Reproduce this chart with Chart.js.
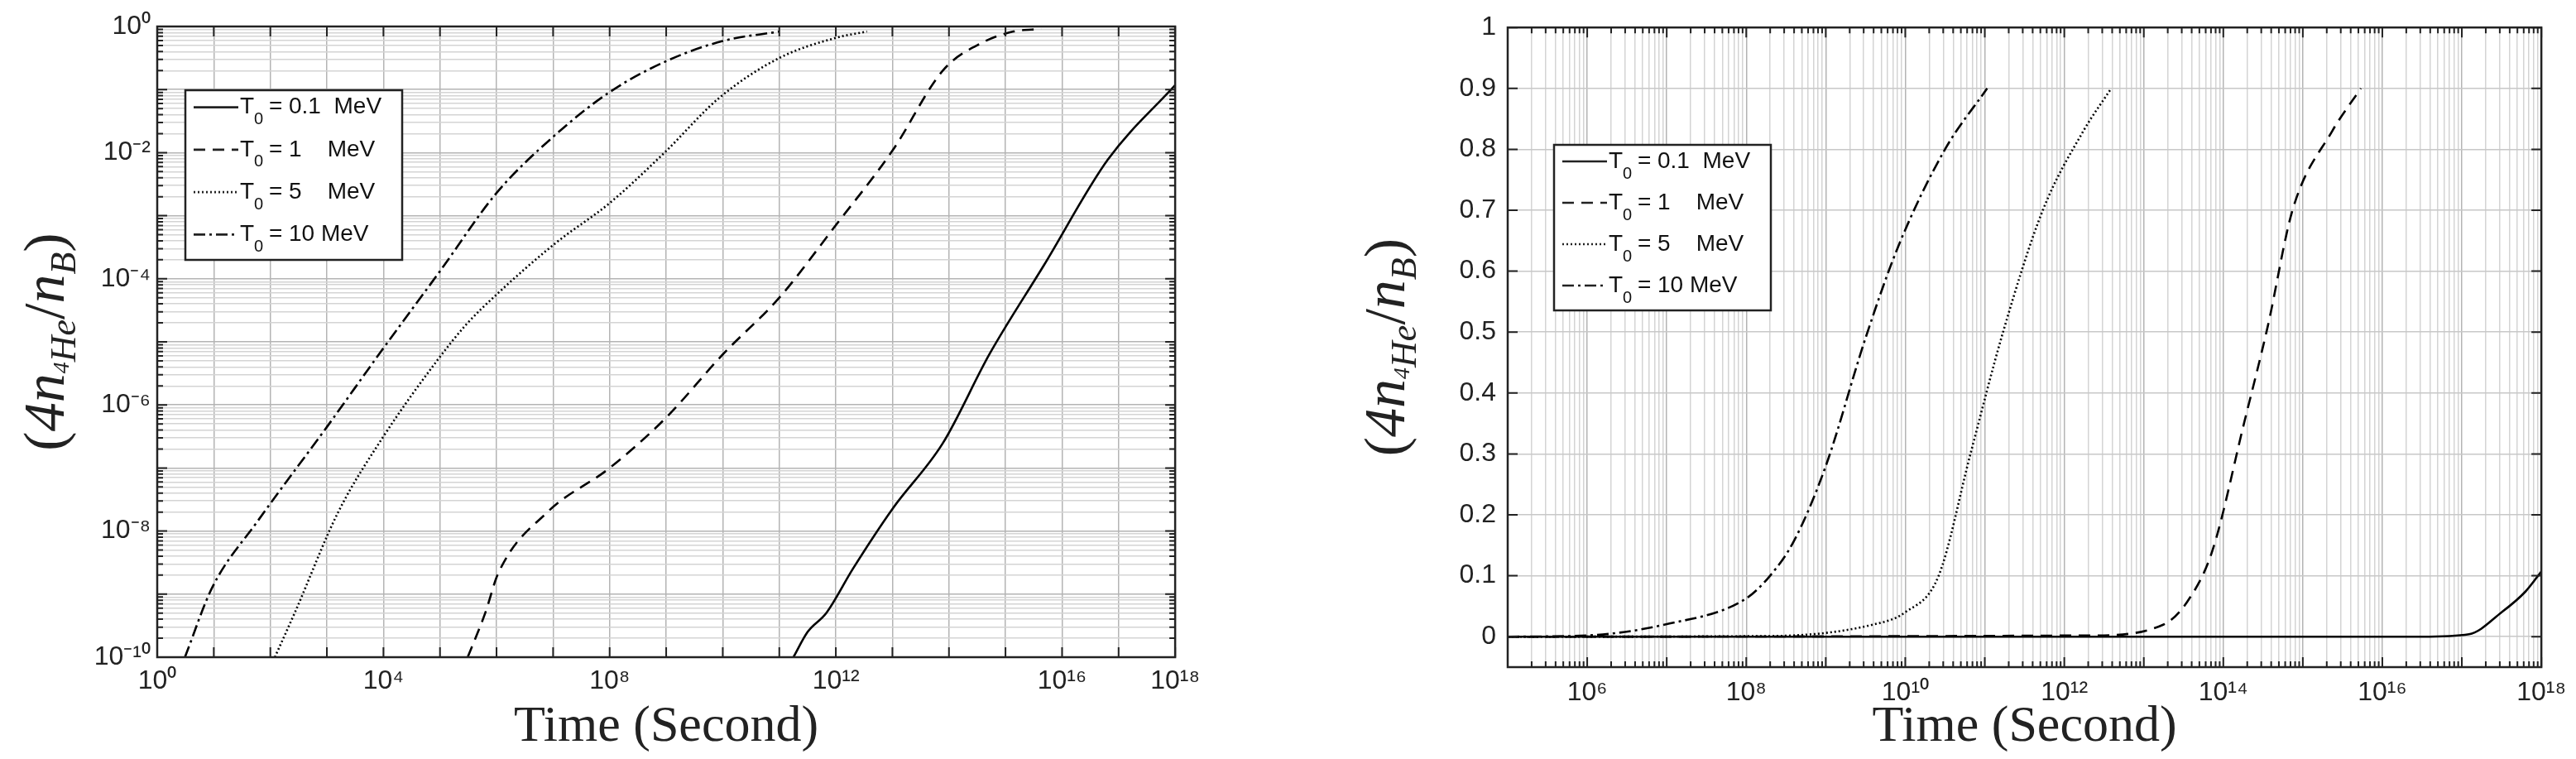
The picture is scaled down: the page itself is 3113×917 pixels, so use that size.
<!DOCTYPE html>
<html>
<head>
<meta charset="utf-8">
<script src="https://cdn.jsdelivr.net/npm/chart.js@4"></script>
<style>
  body { margin: 0; background: #fff; width: 3113px; height: 917px; overflow: hidden; }
  .box { position: absolute; top: 0; height: 917px; }
</style>
</head>
<body>
<div class="box" style="left:0;width:1460px"><canvas id="logChart"></canvas></div>
<div class="box" style="left:1600px;width:1513px"><canvas id="linChart"></canvas></div>
<script>
// series labels
const seriesNames = ["0.1  MeV", "1    MeV", "5    MeV", "10 MeV"];
const seriesDash = [[], [14, 9], [2, 3], [14, 5, 3, 5]];

// left panel (log-log), stored as log10(time), log10(value)
const t01LogX = [11.25, 11.5, 11.83, 12.3, 13.0, 13.89, 14.72, 15.69, 16.81, 18.0];
const t01LogY = [-10, -9.6, -9.3, -8.6, -7.65, -6.61, -5.19, -3.77, -2.11, -0.93];
const t1LogX = [5.49, 5.8, 6.03, 6.9, 8.0, 9.0, 10.0, 11.0, 12.0, 13.0, 13.9, 14.58, 15.14, 15.63];
const t1LogY = [-10, -9.3, -8.67, -7.7, -7.0, -6.2, -5.2, -4.3, -3.15, -1.97, -0.69, -0.26, -0.08, -0.04];
const t5LogX = [2.08, 2.43, 3.2, 4.0, 4.93, 5.45, 6.0, 7.05, 8.0, 8.97, 9.94, 11.0, 12.0, 12.55];
const t5LogY = [-10, -9.3, -7.7, -6.5, -5.32, -4.74, -4.25, -3.43, -2.8, -2.0, -1.13, -0.5, -0.18, -0.08];
const t10LogX = [0.49, 0.97, 1.77, 3.0, 4.0, 5.0, 6.0, 7.0, 8.0, 9.0, 10.0, 11.0];
const t10LogY = [-10, -8.9, -7.85, -6.35, -5.1, -3.88, -2.64, -1.75, -1.04, -0.55, -0.23, -0.08];

// right panel (log time, linear value)
const r01LogX = [5.0, 16.5, 17.09, 17.5, 17.8, 18.0];
const r01Y = [0, 0, 0.004, 0.04, 0.074, 0.107];
const r1LogX = [5.0, 12.34, 13.25, 13.55, 13.86, 14.26, 14.56, 14.87, 15.37, 15.73];
const r1Y = [0, 0.002, 0.02, 0.058, 0.14, 0.35, 0.51, 0.7, 0.83, 0.9];
const r5LogX = [5.0, 8.3, 9.6, 10.0, 10.42, 10.82, 11.23, 11.73, 12.24, 12.59];
const r5Y = [0, 0.001, 0.02, 0.04, 0.1, 0.3, 0.5, 0.7, 0.83, 0.9];
const r10LogX = [5.0, 6.0, 6.98, 7.99, 8.3, 8.6, 9.0, 9.5, 9.91, 10.5, 11.03];
const r10Y = [0, 0.002, 0.02, 0.062, 0.1, 0.157, 0.28, 0.49, 0.64, 0.8, 0.9];

// tick labels
const leftXLabels = [0, 4, 8, 12, 16, 18];
const leftYLabels = [0, -2, -4, -6, -8, -10];
const rightXLabels = [6, 8, 10, 12, 14, 16, 18];
const rightYTicks = [0, 0.1, 0.2, 0.3, 0.4, 0.5, 0.6, 0.7, 0.8, 0.9, 1];

const tickFont = { family: "'Liberation Sans Narrow', 'Liberation Sans', sans-serif", size: 32 };
const titleFont = "62px 'Liberation Serif', 'DejaVu Serif', serif";
const sup = { "0": "⁰", "1": "¹", "2": "²", "3": "³", "4": "⁴", "5": "⁵", "6": "⁶", "7": "⁷", "8": "⁸", "9": "⁹", "-": "⁻" };
function pow10Label(e) { return "10" + String(e).split("").map(function (c) { return sup[c]; }).join(""); }
function nearInt(v) { const e = Math.log10(v); return Math.abs(e - Math.round(e)) < 1e-6 ? Math.round(e) : null; }

function logPoints(lx, ly) {
  return lx.map(function (x, i) { return { x: Math.pow(10, x), y: Math.pow(10, ly[i]) }; });
}
function mixPoints(lx, y) {
  return lx.map(function (x, i) { return { x: Math.pow(10, x), y: y[i] }; });
}
function decadeTicks(lo, hi) {
  const t = [];
  for (let e = lo; e <= hi; e++) t.push({ value: Math.pow(10, e) });
  return t;
}
function allLogTicks(lo, hi) {
  const t = [];
  for (let e = lo; e < hi; e++) for (let m = 1; m < 10; m++) t.push({ value: m * Math.pow(10, e) });
  t.push({ value: Math.pow(10, hi) });
  return t;
}
function makeSets(lists) {
  return lists.map(function (pts, i) {
    return {
      data: pts, borderColor: "#000", borderWidth: 2.6, borderDash: seriesDash[i],
      pointRadius: 0, fill: false, cubicInterpolationMode: "monotone"
    };
  });
}

// frame, inward ticks, titles, legend
const decorPlugin = {
  id: "decor",
  afterDraw: function (chart, args, opts) {
    const ctx = chart.ctx, a = chart.chartArea;
    ctx.save();
    ctx.strokeStyle = "#222";
    ctx.lineWidth = 2;
    const xs = chart.scales.x, ys = chart.scales.y;
    xs.ticks.forEach(function (t) {
      const px = xs.getPixelForValue(t.value);
      const len = nearInt(t.value) !== null ? 12 : 7;
      ctx.beginPath(); ctx.moveTo(px, a.bottom); ctx.lineTo(px, a.bottom - len);
      ctx.moveTo(px, a.top); ctx.lineTo(px, a.top + len); ctx.stroke();
    });
    ys.ticks.forEach(function (t) {
      const py = ys.getPixelForValue(t.value);
      const len = (opts.logY && nearInt(t.value) === null) ? 7 : 12;
      ctx.beginPath(); ctx.moveTo(a.left, py); ctx.lineTo(a.left + len, py);
      ctx.moveTo(a.right, py); ctx.lineTo(a.right - len, py); ctx.stroke();
    });
    ctx.lineWidth = 2.5;
    ctx.strokeRect(a.left, a.top, a.right - a.left, a.bottom - a.top);

    // x title
    ctx.fillStyle = "#222";
    ctx.font = titleFont;
    ctx.textAlign = "center"; ctx.textBaseline = "alphabetic";
    ctx.fillText("Time (Second)", (a.left + a.right) / 2, opts.xTitleY);

    // y title, rotated
    ctx.save();
    ctx.translate(opts.yTitleX, (a.top + a.bottom) / 2);
    ctx.rotate(-Math.PI / 2);
    const big = "italic 70px 'Liberation Serif', serif";
    const small = "italic 44px 'Liberation Serif', serif";
    const parts = [
      ["(", "70px 'Liberation Serif', serif", 0], ["4", big, 0], ["n", big, 0],
      ["4", "italic 28px 'Liberation Serif', serif", 6], ["He", small, 14],
      ["/", "70px 'Liberation Serif', serif", 0], ["n", big, 0], ["B", small, 14],
      [")", "70px 'Liberation Serif', serif", 0]
    ];
    let w = 0;
    parts.forEach(function (p) { ctx.font = p[1]; w += ctx.measureText(p[0]).width; });
    let x = -w / 2;
    ctx.textAlign = "left";
    parts.forEach(function (p) { ctx.font = p[1]; ctx.fillText(p[0], x, 22 + p[2]); x += ctx.measureText(p[0]).width; });
    ctx.restore();

    // legend
    const L = opts.legend;
    ctx.fillStyle = "#fff";
    ctx.fillRect(L.x, L.y, L.w, L.h);
    ctx.lineWidth = 2.5;
    ctx.strokeStyle = "#222";
    ctx.strokeRect(L.x, L.y, L.w, L.h);
    ctx.textAlign = "left";
    ctx.textBaseline = "middle";
    const rowH = L.h / 4;
    seriesNames.forEach(function (name, i) {
      const cy = L.y + rowH * (i + 0.5) - 5;
      ctx.setLineDash(seriesDash[i]);
      ctx.lineWidth = 2.6;
      ctx.beginPath(); ctx.moveTo(L.x + 10, cy); ctx.lineTo(L.x + 64, cy); ctx.stroke();
      ctx.setLineDash([]);
      ctx.fillStyle = "#111";
      ctx.font = "28px 'Liberation Sans Narrow', 'Liberation Sans', sans-serif";
      ctx.fillText("T", L.x + 66, cy);
      const tw = ctx.measureText("T").width;
      ctx.font = "20px 'Liberation Sans Narrow', 'Liberation Sans', sans-serif";
      ctx.fillText("0", L.x + 66 + tw, cy + 15);
      ctx.font = "28px 'Liberation Sans Narrow', 'Liberation Sans', sans-serif";
      ctx.fillText(" = " + name, L.x + 66 + tw + 10, cy);
    });
    ctx.restore();
  }
};

function logGridColor(ctx) {
  if (!ctx.tick) return "#ccc";
  return nearInt(ctx.tick.value) !== null ? "#b4b4b4" : "#d4d4d4";
}

new Chart(document.getElementById("logChart"), {
  type: "line",
  data: {
    datasets: makeSets([logPoints(t01LogX, t01LogY), logPoints(t1LogX, t1LogY), logPoints(t5LogX, t5LogY), logPoints(t10LogX, t10LogY)])
  },
  plugins: [decorPlugin],
  options: {
    responsive: true, maintainAspectRatio: false, animation: false,
    layout: { padding: { top: 32, right: 39, left: 0, bottom: 0 } },
    plugins: {
      legend: { display: false }, tooltip: { enabled: false },
      decor: { logY: true, xTitleY: 895, yTitleX: 55, legend: { x: 224, y: 109, w: 262, h: 205 } }
    },
    scales: {
      x: {
        type: "logarithmic", min: 1, max: 1e18,
        afterBuildTicks: function (s) { s.ticks = decadeTicks(0, 18); },
        afterFit: function (s) { s.height = 123; },
        grid: { color: "#b4b4b4", lineWidth: 1.5, drawTicks: false },
        border: { display: false },
        ticks: {
          autoSkip: false, maxRotation: 0, color: "#222", font: tickFont, padding: 10,
          callback: function (v) { const e = nearInt(v); return leftXLabels.indexOf(e) >= 0 ? pow10Label(e) : ""; }
        }
      },
      y: {
        type: "logarithmic", min: 1e-10, max: 1,
        afterBuildTicks: function (s) { s.ticks = allLogTicks(-10, 0); },
        afterFit: function (s) { s.width = 190; },
        grid: { color: logGridColor, lineWidth: 1.5, drawTicks: false },
        border: { display: false },
        ticks: {
          autoSkip: false, color: "#222", font: tickFont, padding: 8,
          callback: function (v) { const e = nearInt(v); return e !== null && leftYLabels.indexOf(e) >= 0 ? pow10Label(e) : ""; }
        }
      }
    }
  }
});

new Chart(document.getElementById("linChart"), {
  type: "line",
  data: {
    datasets: makeSets([mixPoints(r01LogX, r01Y), mixPoints(r1LogX, r1Y), mixPoints(r5LogX, r5Y), mixPoints(r10LogX, r10Y)])
  },
  plugins: [decorPlugin],
  options: {
    responsive: true, maintainAspectRatio: false, animation: false,
    layout: { padding: { top: 32, right: 13, left: 0, bottom: 0 } },
    plugins: {
      legend: { display: false }, tooltip: { enabled: false },
      decor: { logY: false, xTitleY: 895, yTitleX: 75, legend: { x: 278, y: 175, w: 262, h: 200 } }
    },
    scales: {
      x: {
        type: "logarithmic", min: 1e5, max: 1e18,
        afterBuildTicks: function (s) { s.ticks = allLogTicks(5, 18); },
        afterFit: function (s) { s.height = 111; },
        grid: { color: logGridColor, lineWidth: 1.5, drawTicks: false },
        border: { display: false },
        ticks: {
          autoSkip: false, maxRotation: 0, color: "#222", font: tickFont, padding: 12,
          callback: function (v) { const e = nearInt(v); return e !== null && rightXLabels.indexOf(e) >= 0 ? pow10Label(e) : ""; }
        }
      },
      y: {
        min: -0.05, max: 1,
        afterBuildTicks: function (s) { s.ticks = rightYTicks.map(function (v) { return { value: v }; }); },
        afterFit: function (s) { s.width = 222; },
        grid: { color: "#c8c8c8", lineWidth: 1.5, drawTicks: false },
        border: { display: false },
        ticks: {
          color: "#222", font: tickFont, padding: 14,
          callback: function (v) { return String(Math.round(v * 10) / 10); }
        }
      }
    }
  }
});
</script>
</body>
</html>
